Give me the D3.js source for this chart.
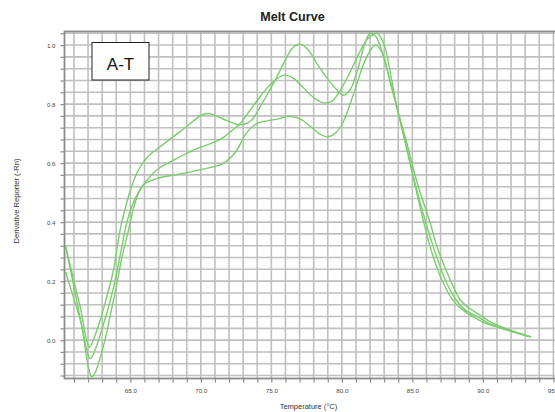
<!DOCTYPE html>
<html>
<head>
<meta charset="utf-8">
<script src="https://cdn.jsdelivr.net/npm/d3@7"></script>
<style>
  body { margin: 0; background: #fff; }
  svg { display: block; font-family: "Liberation Sans", Arial, sans-serif; }
</style>
</head>
<body>
<svg id="chart" width="555" height="412"></svg>
<script>
// Melt curve: derivative reporter (-Rn) against temperature for three wells
const temps1 = [60.4, 61.0, 61.5, 61.9, 62.1, 62.6, 63.0, 63.4, 63.8, 64.27, 64.6, 65.0, 65.5, 66.2, 67.1, 68.5, 69.5, 70.0, 70.5, 71.0, 71.8, 72.6, 73.0, 73.6, 74.2, 74.8, 75.4, 76.0, 76.5, 77.05, 77.6, 78.2, 79.0, 79.6, 80.1, 80.6, 81.2, 81.6, 82.0, 82.4, 82.9, 83.4, 83.9, 84.5, 85.0, 85.7, 86.3, 87.0, 87.8, 88.5, 89.3, 90.2, 91.0, 91.8, 92.6, 93.4];
const deriv1 = [0.32, 0.2, 0.1, 0.0, -0.025, 0.03, 0.09, 0.16, 0.237, 0.373, 0.44, 0.508, 0.57, 0.62, 0.655, 0.706, 0.744, 0.762, 0.768, 0.762, 0.745, 0.731, 0.73, 0.745, 0.79, 0.84, 0.893, 0.95, 0.99, 1.003, 0.985, 0.94, 0.885, 0.85, 0.83, 0.85, 0.93, 1.0, 1.04, 1.03, 0.97, 0.88, 0.79, 0.67, 0.565, 0.42, 0.31, 0.215, 0.14, 0.105, 0.08, 0.057, 0.045, 0.033, 0.022, 0.011];

const temps2 = [60.4, 61.0, 61.5, 62.15, 62.6, 63.0, 63.5, 64.0, 64.63, 65.0, 65.5, 65.9, 66.5, 67.1, 68.5, 69.5, 70.4, 71.0, 71.6, 72.2, 72.8, 73.5, 74.2, 75.0, 75.9, 76.5, 77.1, 77.8, 78.3, 78.8, 79.3, 79.8, 80.5, 81.2, 81.8, 82.5, 83.0, 83.5, 83.9, 84.6, 85.3, 86.2, 86.8, 87.7, 88.4, 89.0, 89.8, 90.6, 91.8, 93.4];
const deriv2 = [0.232, 0.14, 0.06, -0.062, -0.02, 0.04, 0.12, 0.22, 0.373, 0.44, 0.495, 0.525, 0.56, 0.585, 0.621, 0.645, 0.661, 0.672, 0.687, 0.71, 0.735, 0.78, 0.825, 0.87, 0.898, 0.89, 0.864, 0.83, 0.812, 0.804, 0.81, 0.84, 0.9, 0.97, 1.02, 1.04, 1.0, 0.89, 0.79, 0.67, 0.54, 0.407, 0.31, 0.203, 0.136, 0.11, 0.085, 0.06, 0.036, 0.011];

const temps3 = [60.4, 61.0, 61.6, 62.0, 62.25, 62.5, 62.8, 63.2, 63.6, 64.0, 64.4, 64.87, 65.3, 65.9, 66.9, 68.5, 70.4, 71.6, 72.5, 73.2, 74.0, 74.7, 75.5, 76.3, 77.1, 77.8, 78.4, 78.95, 79.5, 80.0, 80.8, 81.5, 82.0, 82.4, 82.9, 83.4, 83.9, 84.5, 85.2, 85.9, 86.6, 87.35, 88.1, 88.8, 89.6, 90.4, 91.5, 93.4];
const deriv3 = [0.32, 0.18, 0.035, -0.085, -0.124, -0.11, -0.07, 0.0, 0.09, 0.18, 0.28, 0.373, 0.46, 0.525, 0.548, 0.563, 0.582, 0.599, 0.64, 0.70, 0.735, 0.743, 0.75, 0.759, 0.748, 0.723, 0.70, 0.689, 0.70, 0.73, 0.83, 0.93, 0.98, 1.0, 0.97, 0.88, 0.79, 0.67, 0.53, 0.407, 0.3, 0.203, 0.136, 0.1, 0.08, 0.058, 0.038, 0.011];

const xMajorTicks = [65, 70, 75, 80, 85, 90, 95];
const yMajorTicks = [0.0, 0.2, 0.4, 0.6, 0.8, 1.0];

const chartTitle = "Melt Curve";
const xTitle = "Temperature (\u00b0C)";
const yTitle = "Derivative Reporter (-Rn)";
const tag = "A-T";

const series = [
  temps1.map((t, i) => ({ t, v: deriv1[i] })),
  temps2.map((t, i) => ({ t, v: deriv2[i] })),
  temps3.map((t, i) => ({ t, v: deriv3[i] }))
];

const svg = d3.select("#chart");
const plotLeft = 64.5, plotTop = 31.5, plotBottom = 378.5, plotRight = 557.6;

const x = d3.scaleLinear().domain([60.33, 95.3]).range([plotLeft, plotRight]);
const y = d3.scaleLinear().domain([-0.13, 1.046]).range([plotBottom, plotTop]);

const xGrid = d3.range(61, 96);
const yGrid = d3.range(-3, 27).map(i => +(i * 0.04).toFixed(2));

svg.append("defs").append("clipPath").attr("id", "plot-clip")
  .append("rect").attr("x", plotLeft).attr("y", plotTop)
  .attr("width", plotRight - plotLeft).attr("height", plotBottom - plotTop);

// grid
const grid = svg.append("g").attr("stroke", "#bfbfbf").attr("stroke-width", 1.6);
grid.selectAll("line.v").data(xGrid).join("line").attr("class", "v")
  .attr("x1", d => x(d)).attr("x2", d => x(d)).attr("y1", plotTop).attr("y2", plotBottom);
grid.selectAll("line.h").data(yGrid).join("line").attr("class", "h")
  .attr("x1", plotLeft).attr("x2", plotRight).attr("y1", d => y(d)).attr("y2", d => y(d));

// frame
svg.append("rect").attr("x", plotLeft).attr("y", plotTop)
  .attr("width", plotRight - plotLeft).attr("height", plotBottom - plotTop)
  .attr("fill", "none").attr("stroke", "#8c8c8c").attr("stroke-width", 1.8);

// axes
const fmt = d3.format(".1f");
const yAxis = d3.axisLeft(y).tickValues(yGrid).tickSize(4).tickPadding(5)
  .tickFormat(d => yMajorTicks.some(m => Math.abs(m - d) < 1e-6) ? fmt(d) : "");
const xAxis = d3.axisBottom(x).tickValues(xGrid).tickSize(4).tickPadding(6)
  .tickFormat(d => xMajorTicks.includes(d) ? fmt(d) : "");

const gy = svg.append("g").attr("transform", `translate(${plotLeft},0)`).call(yAxis);
const gx = svg.append("g").attr("transform", `translate(0,${plotBottom})`).call(xAxis);
[gx, gy].forEach(g => {
  g.select(".domain").remove();
  g.selectAll(".tick line").attr("stroke", "#8c8c8c").attr("stroke-width", 1.2);
  g.selectAll(".tick text").attr("fill", "#444").attr("font-size", 6.2)
    .attr("font-family", "'Liberation Sans', Arial, sans-serif");
});

// curves
const line = d3.line().x(d => x(d.t)).y(d => y(d.v)).curve(d3.curveCatmullRom.alpha(0.5));
svg.append("g").attr("clip-path", "url(#plot-clip)")
  .selectAll("path").data(series).join("path")
  .attr("d", line).attr("fill", "none")
  .attr("stroke", "#7acd6c").attr("stroke-width", 1.4)
  .attr("stroke-linejoin", "round");

// tag box
svg.append("rect").attr("x", 92).attr("y", 42.5).attr("width", 57).attr("height", 37.5)
  .attr("fill", "#fff").attr("stroke", "#222").attr("stroke-width", 1);
svg.append("text").attr("x", 120.5).attr("y", 69.5).attr("text-anchor", "middle")
  .attr("font-size", 17).attr("fill", "#111").text(tag);

// titles
svg.append("text").attr("x", 292.5).attr("y", 21).attr("text-anchor", "middle")
  .attr("font-size", 12.6).attr("font-weight", "bold").attr("fill", "#222").text(chartTitle);
svg.append("text").attr("x", 308.5).attr("y", 409).attr("text-anchor", "middle")
  .attr("font-size", 7.5).attr("fill", "#333").text(xTitle);
svg.append("text").attr("transform", "translate(19,201) rotate(-90)").attr("text-anchor", "middle")
  .attr("font-size", 7.6).attr("fill", "#333").text(yTitle);
</script>
</body>
</html>
